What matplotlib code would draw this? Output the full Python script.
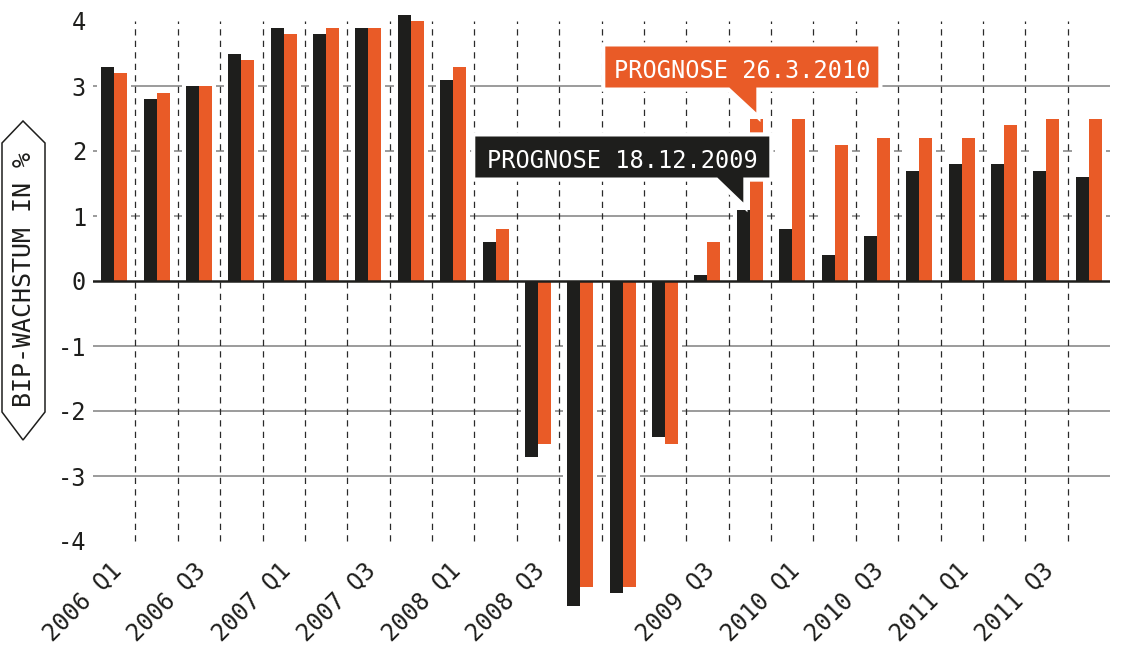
import matplotlib
matplotlib.use("Agg")
import matplotlib.pyplot as plt
import matplotlib.patheffects as pe
from matplotlib.patches import Polygon
from matplotlib.transforms import IdentityTransform
import numpy as np

# ---------------- data ----------------
quarters = ["2006 Q1", "2006 Q2", "2006 Q3", "2006 Q4",
            "2007 Q1", "2007 Q2", "2007 Q3", "2007 Q4",
            "2008 Q1", "2008 Q2", "2008 Q3", "2008 Q4",
            "2009 Q1", "2009 Q2", "2009 Q3", "2009 Q4",
            "2010 Q1", "2010 Q2", "2010 Q3", "2010 Q4",
            "2011 Q1", "2011 Q2", "2011 Q3", "2011 Q4"]
prognose_dez_2009 = [3.3, 2.8, 3.0, 3.5, 3.9, 3.8, 3.9, 4.1, 3.1, 0.6, -2.7, -5.0,
                     -4.8, -2.4, 0.1, 1.1, 0.8, 0.4, 0.7, 1.7, 1.8, 1.8, 1.7, 1.6]
prognose_mar_2010 = [3.2, 2.9, 3.0, 3.4, 3.8, 3.9, 3.9, 4.0, 3.3, 0.8, -2.5, -4.7,
                     -4.7, -2.5, 0.6, 2.5, 2.5, 2.1, 2.2, 2.2, 2.2, 2.4, 2.5, 2.5]
label_dez = "PROGNOSE 18.12.2009"
label_mar = "PROGNOSE 26.3.2010"
callout_quarter = "2009 Q4"
y_ticks = [-4, -3, -2, -1, 0, 1, 2, 3, 4]
y_label = "BIP-WACHSTUM IN %"

# ---------------- style ----------------
BLACK = "#1e1e1c"
ORANGE = "#e95b27"
GRID = "#8a8a8a"
FONT = "DejaVu Sans Mono"
plt.rcParams["font.family"] = [FONT, "DejaVu Sans"]

W, H = 1124, 651
fig = plt.figure(figsize=(W / 100, H / 100), dpi=100)
ax = fig.add_axes([93 / W, 32 / H, 1017 / W, 611 / H])
n = len(quarters)
x = np.arange(n)
ax.set_xlim(-0.5, n - 0.5)
ax.set_ylim(-5.2, 4.2)
for s in ax.spines.values():
    s.set_visible(False)

bw = 0.307
dez = np.array(prognose_dez_2009)
mar = np.array(prognose_mar_2010)

# horizontal grid
for v in y_ticks:
    if v in (0, y_ticks[0], y_ticks[-1]):
        continue
    ax.axhline(v, color=GRID, lw=1.2, zorder=1)

# white halos behind each group
pad = 0.06
top = np.maximum(np.maximum(dez, mar), 0)
bot = np.minimum(np.minimum(dez, mar), 0)
top = np.where(top > 0, top + pad, top)
bot = np.where(bot < 0, bot - pad, bot)
ax.bar(x, top - bot, bottom=bot, width=2 * bw + 0.19, color="white", zorder=2, lw=0)

# dashed separators
ax.vlines(x[:-1] + 0.5, y_ticks[0], y_ticks[-1], colors="#2a2a2a", lw=0.9,
          linestyles=(0, (5, 4.2)), zorder=3)

# bars
ax.bar(x - bw / 2, dez, width=bw, color=BLACK, lw=0, zorder=4)
ax.bar(x + bw / 2, mar, width=bw, color=ORANGE, lw=0, zorder=4)

# zero line
ax.axhline(0, color=BLACK, lw=1.8, zorder=5)

# y ticks
ax.set_yticks(y_ticks)
ax.set_yticklabels([str(v) for v in y_ticks], fontsize=17, color=BLACK)
ax.tick_params(axis="y", length=0, pad=5)
ax.set_xticks([])

# x labels (every second quarter, skipping where bars run below the axis)
for i in range(0, n, 2):
    if min(dez[i], mar[i]) < y_ticks[0]:
        continue
    ax.text(i - 0.13, -4.26, quarters[i], rotation=45, ha="right", va="top",
            rotation_mode="anchor", fontsize=17, color=BLACK)

# ---------------- callouts ----------------
idx = quarters.index(callout_quarter)
halo = [pe.withStroke(linewidth=6, foreground="white")]


def callout(tx, ty, left, right, back, text, color):
    B = ty + 25
    T = ty + 66
    pts = [(tx - left, T), (tx + right, T), (tx + right, B), (tx, B), (tx, ty),
           (tx - back, B), (tx - left, B)]
    poly = Polygon(pts, closed=True, transform=IdentityTransform(), facecolor=color,
                   edgecolor=color, lw=0, zorder=10, path_effects=halo)
    fig.add_artist(poly)
    cx = tx + (right - left) / 2
    fig.text(cx / W, (B + 10) / H, text, ha="center", va="baseline", fontsize=17,
             color="white", zorder=11)


tdx, tdy = ax.transData.transform((idx - bw / 2, dez[idx]))
tmx, tmy = ax.transData.transform((idx + bw / 2, mar[idx]))
callout(tmx, tmy + 6, 151, 122, 27, label_mar, ORANGE)
callout(tdx, tdy + 7, 268, 26, 26, label_dez, BLACK)

# ---------------- y label in arrow box ----------------
hex_pts_top = [(2, 143), (23, 121), (45, 143), (45, 412), (23, 440), (2, 412)]
hex_pts = [(px, H - py) for px, py in hex_pts_top]
fig.add_artist(Polygon(hex_pts, closed=True, transform=IdentityTransform(),
                       facecolor="white", edgecolor=BLACK, lw=1.1, zorder=10))
fig.text(24 / W, (H - 280) / H, y_label, rotation=90, ha="center", va="center",
         fontsize=18, color=BLACK, zorder=11)

fig.savefig("out.png", dpi=100)
